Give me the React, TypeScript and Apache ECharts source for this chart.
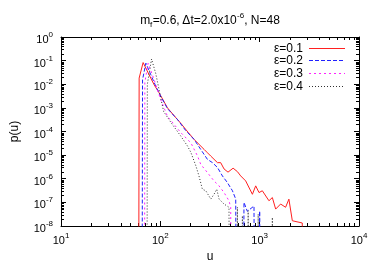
import React, { useEffect, useRef } from 'react';
import * as echarts from 'echarts';

const X_MIN = 10;
const X_MAX = 10000;
const Y_MIN = 1e-8;
const Y_MAX = 1;
const FLOOR = 1e-20; // stands in for empty bins (p = 0) on the log axis

const legendNames = ['ε=0.1', 'ε=0.2', 'ε=0.3', 'ε=0.4'];

const red_u = [60, 61.2, 67.1, 77.1, 86.6, 97.3, 118, 138, 161, 190, 219, 237, 276, 298, 322, 376, 405, 438, 480, 540, 597, 644, 723, 845, 912, 985, 1064, 1240, 1342, 1449, 1625, 1824, 1969, 2132, 2685, 2720];
const red_p = [0, 0.0182, 0.0828, 0.0251, 0.0095, 0.0043, 1.0e-3, 4.6e-4, 2.2e-4, 9.3e-5, 4.6e-5, 3.3e-5, 1.74e-5, 1.26e-5, 9.1e-6, 4.8e-6, 4.8e-6, 2.6e-6, 1.9e-6, 2.8e-6, 2.0e-6, 1.32e-6, 8.1e-7, 2.2e-7, 5.0e-7, 2.6e-7, 3.1e-7, 1.17e-7, 1.6e-7, 5.2e-8, 8.5e-8, 6.2e-8, 1.37e-7, 1.67e-8, 1.34e-8, 0];

const blue_u = [65, 66.2, 71.5, 80.3, 90.2, 101, 118, 149, 180, 219, 255, 298, 335, 376, 422, 473, 532, 574, 590, 680, 695, 751, 877, 900, 980, 1000, 1020];
const blue_p = [0, 0.0155, 0.078, 0.025, 0.0081, 0.0031, 9.3e-4, 3.2e-4, 1.1e-4, 4.6e-5, 1.75e-5, 6.6e-6, 4.8e-6, 3.0e-6, 1.31e-6, 6.9e-7, 3.1e-7, 1.38e-7, 0, 0, 1.0e-7, 4.2e-8, 7.0e-8, 0, 0, 4.3e-8, 0];

const mag_u = [69, 69.8, 75.4, 86.6, 101, 118, 161, 203, 237, 255, 298, 347, 390, 438, 491, 511, 525];
const mag_p = [0, 0.012, 0.078, 0.0155, 0.0022, 4.4e-4, 8.9e-5, 3.3e-5, 9.1e-6, 4.1e-6, 1.82e-6, 8.1e-7, 5.0e-7, 2.6e-7, 1.17e-7, 6.2e-8, 0];

const gray_u = [73, 74, 81.6, 90, 96, 101, 108, 128, 161, 188, 203, 228, 245, 265, 287, 322, 347, 370, 390, 438, 491, 505, 580, 597, 615, 655, 670, 685, 745, 766, 790, 940, 966, 995, 1300, 1342, 1385];
const gray_p = [0, 0.01, 0.117, 0.028, 0.0075, 0.0026, 7e-4, 2.4e-4, 6.3e-5, 2.4e-5, 1.3e-5, 3.5e-6, 1.31e-6, 3.6e-7, 3.1e-7, 1.38e-7, 2.2e-7, 3.6e-7, 1.38e-7, 8.5e-8, 6.2e-8, 0, 0, 6.2e-8, 0, 0, 2.7e-8, 0, 0, 4.5e-8, 0, 0, 3.2e-8, 0, 0, 2.3e-8, 0];

const seriesColors = ['#ff2020', '#2020ff', '#ff20ff', '#303030'];
const seriesDash: any[] = ['solid', [4, 2], [2, 3], [1, 2]];
const seriesDashArr: any[] = [null, [4, 2], [2, 3], [1, 2]];

const minorX: number[] = [];
for (let d = 1; d <= 3; d++) for (let k = 2; k <= 9; k++) minorX.push(k * Math.pow(10, d));
const minorY: number[] = [];
for (let d = -8; d <= -1; d++) for (let k = 2; k <= 9; k++) minorY.push(k * Math.pow(10, d));

const FONT = 'Liberation Sans, Arial, Helvetica, sans-serif';

const pairs = (u: number[], p: number[]) => u.map((x, i) => [x, p[i] > 0 ? p[i] : FLOOR]);

const expRich = {
  a: { fontSize: 11, lineHeight: 13, verticalAlign: 'top', padding: [3, 0, 0, 0], fontFamily: FONT, color: '#000' },
  s: { fontSize: 8, lineHeight: 9, verticalAlign: 'top', fontFamily: FONT, color: '#000' },
};
const expFmt = (v: number) => {
  const e = Math.round(Math.log10(v));
  return `{a|10}{s|${e}}`;
};

const lineSeries = (i: number, u: number[], p: number[]) => ({
  type: 'line',
  name: legendNames[i],
  data: pairs(u, p),
  showSymbol: false,
  symbol: 'none',
  clip: true,
  lineStyle: { color: seriesColors[i], width: 1, type: seriesDash[i] },
  itemStyle: { color: seriesColors[i] },
});

// legend drawn as graphic elements (text + line sample)
const legendGraphics = () => {
  const out: any[] = [];
  legendNames.forEach((name, i) => {
    const y = 47.5 + i * 12.8;
    out.push({
      type: 'text',
      x: 303,
      y,
      style: { text: name, fontSize: 12, fontFamily: FONT, fill: '#000', align: 'right', verticalAlign: 'middle' },
    });
    const yl = Math.round(y) + 0.5;
    out.push({
      type: 'line',
      shape: { x1: 309, y1: yl, x2: 345, y2: yl },
      style: { stroke: seriesColors[i], lineWidth: 1, lineDash: seriesDashArr[i] },
    });
  });
  return out;
};

export default function App() {
  const ref = useRef<HTMLDivElement>(null);
  useEffect(() => {
    const chart = echarts.init(ref.current!, null, { renderer: 'svg' });
    const option: any = {
      animation: false,
      textStyle: { fontFamily: FONT },
      grid: { left: 60, right: 23, top: 37, bottom: 40 },
      graphic: [
        {
          type: 'text',
          x: 210,
          y: 18,
          style: {
            text: '{a|m}{b|f}{a|=0.6, Δt=2.0x10}{c|-6}{a|, N=48}',
            align: 'center',
            verticalAlign: 'middle',
            rich: {
              a: { fontSize: 12, lineHeight: 14, verticalAlign: 'top', padding: [3, 0, 0, 0], fontFamily: FONT, fill: '#000', color: '#000' },
              b: { fontSize: 8, lineHeight: 9, verticalAlign: 'top', padding: [9, 0, 0, 0], fontFamily: FONT, fill: '#000', color: '#000' },
              c: { fontSize: 8, lineHeight: 9, verticalAlign: 'top', fontFamily: FONT, fill: '#000', color: '#000' },
            },
          },
        },
        ...legendGraphics(),
      ],
      xAxis: [
        {
          type: 'log',
          min: X_MIN,
          max: X_MAX,
          position: 'bottom',
          name: 'u',
          nameLocation: 'middle',
          nameGap: 24,
          nameTextStyle: { fontSize: 12, fontFamily: FONT, color: '#000' },
          axisLine: { show: true, lineStyle: { color: '#000', width: 1 } },
          axisTick: { show: true, inside: true, length: 5, lineStyle: { color: '#000' } },
          axisLabel: { formatter: expFmt, rich: expRich, margin: 5 },
          splitLine: { show: false },
        },
        {
          type: 'log',
          min: X_MIN,
          max: X_MAX,
          position: 'top',
          axisLine: { show: true, lineStyle: { color: '#000', width: 1 } },
          axisTick: { show: true, inside: true, length: 5, lineStyle: { color: '#000' } },
          axisLabel: { show: false },
          splitLine: { show: false },
        },
      ],
      yAxis: [
        {
          type: 'log',
          min: Y_MIN,
          max: Y_MAX,
          position: 'left',
          name: 'p(u)',
          nameLocation: 'middle',
          nameGap: 41,
          nameTextStyle: { fontSize: 12, fontFamily: FONT, color: '#000' },
          axisLine: { show: true, lineStyle: { color: '#000', width: 1 } },
          axisTick: { show: true, inside: true, length: 5, lineStyle: { color: '#000' } },
          axisLabel: { formatter: expFmt, rich: expRich, margin: 8 },
          splitLine: { show: false },
        },
        {
          type: 'log',
          min: Y_MIN,
          max: Y_MAX,
          position: 'right',
          axisLine: { show: true, lineStyle: { color: '#000', width: 1 } },
          axisTick: { show: true, inside: true, length: 5, lineStyle: { color: '#000' } },
          axisLabel: { show: false },
          splitLine: { show: false },
        },
      ],
      series: [
        lineSeries(0, red_u, red_p),
        lineSeries(1, blue_u, blue_p),
        lineSeries(2, mag_u, mag_p),
        lineSeries(3, gray_u, gray_p),
        {
          type: 'custom',
          name: 'minor ticks',
          coordinateSystem: 'cartesian2d',
          silent: true,
          clip: false,
          data: [[X_MIN, Y_MAX]],
          renderItem: (_params: any, api: any) => {
            const children: any[] = [];
            const st = { stroke: '#000', lineWidth: 1 };
            for (const u of minorX) {
              const b = api.coord([u, Y_MIN]);
              const t = api.coord([u, Y_MAX]);
              const x = Math.round(b[0]) + 0.5;
              children.push({ type: 'line', shape: { x1: x, y1: b[1], x2: x, y2: b[1] - 3 }, style: st });
              children.push({ type: 'line', shape: { x1: x, y1: t[1], x2: x, y2: t[1] + 3 }, style: st });
            }
            for (const p of minorY) {
              const l = api.coord([X_MIN, p]);
              const r = api.coord([X_MAX, p]);
              const y = Math.round(l[1]) + 0.5;
              children.push({ type: 'line', shape: { x1: l[0], y1: y, x2: l[0] + 3, y2: y }, style: st });
              children.push({ type: 'line', shape: { x1: r[0], y1: y, x2: r[0] - 3, y2: y }, style: st });
            }
            return { type: 'group', children };
          },
        },
      ],
    };
    chart.setOption(option);
    return () => chart.dispose();
  }, []);
  return <div ref={ref} style={{ position: 'fixed', left: 0, top: 0, width: 382, height: 267 }} />;
}
